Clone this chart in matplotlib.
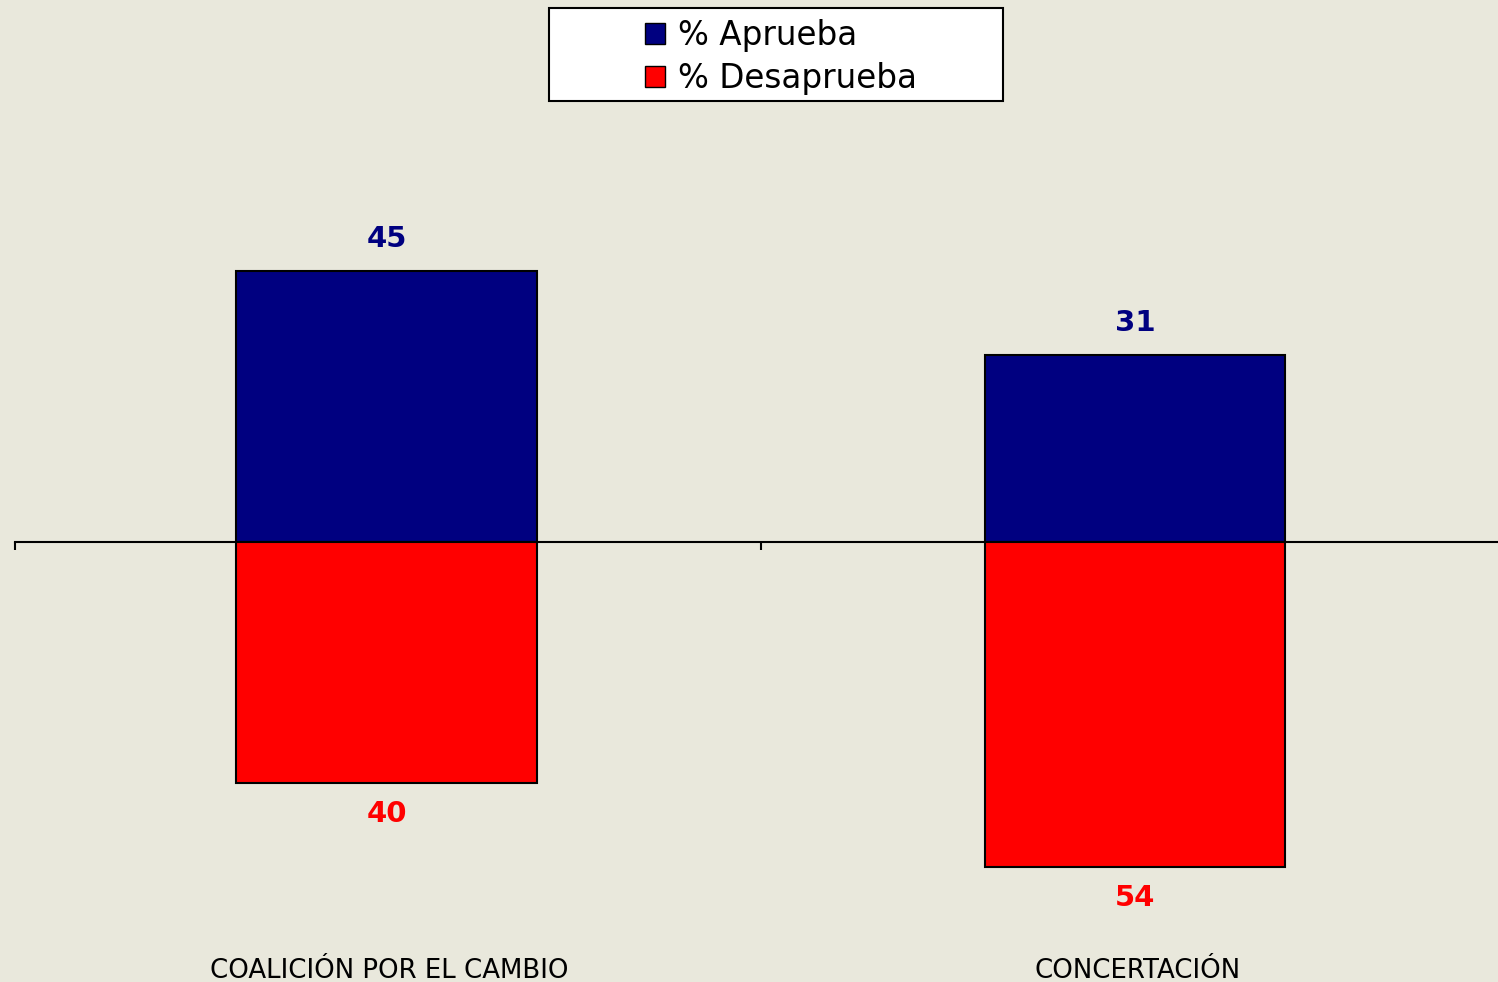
import matplotlib
matplotlib.use("Agg")
import matplotlib.pyplot as plt
from matplotlib.patches import Patch, Rectangle

categories = ["COALICIÓN POR EL CAMBIO", "CONCERTACIÓN"]
aprueba = [45, 31]
desaprueba = [40, 54]
series_names = ["% Aprueba", "% Desaprueba"]

BG = "#E9E8DC"
BLUE = "#000080"
RED = "#FF0000"

plt.rcParams['font.family'] = ['DejaVu Sans']

fig = plt.figure(figsize=(14.98, 9.82), dpi=100)
fig.patch.set_facecolor(BG)
ax = fig.add_axes([0, 0, 1, 1])
ax.set_facecolor(BG)

x = list(range(len(categories)))
w = 0.402
ax.bar(x, aprueba, width=w, color=BLUE, edgecolor="black", linewidth=1.5, zorder=3)
ax.bar(x, [-v for v in desaprueba], width=w, color=RED, edgecolor="black", linewidth=1.5, zorder=3)

for s in ["top", "left", "right"]:
    ax.spines[s].set_visible(False)
ax.spines["bottom"].set_position(("data", 0))
ax.spines["bottom"].set_linewidth(1.5)
ax.spines["bottom"].set_bounds(-0.497, 1.5)
ax.spines["bottom"].set_zorder(2)
ax.set_yticks([])
ax.set_xticks([-0.497, 0.5, 1.5])
ax.set_xticklabels([])
ax.tick_params(axis="x", direction="out", length=6, width=1.5, color="black")

ax.set_xlim(-0.5164, 1.485)
ax.set_ylim(-73.09, 90.03)

for xi, v in zip(x, aprueba):
    ax.annotate(f"{v}", xy=(xi, v), xytext=(0, 18), textcoords="offset pixels",
                ha="center", va="bottom", fontsize=21, fontweight="bold", color=BLUE)
for xi, v in zip(x, desaprueba):
    ax.annotate(f"{v}", xy=(xi, -v), xytext=(0, -17), textcoords="offset pixels",
                ha="center", va="top", fontsize=21, fontweight="bold", color=RED)

for xi, c in zip(x, categories):
    ax.text(xi + 0.004, -72.4, c, ha="center", va="baseline", fontsize=18.7, color="black")

# legend frame
fig.patches.append(Rectangle((549/1498, 1 - 101/982), 454/1498, 93/982,
                             transform=fig.transFigure, facecolor="white",
                             edgecolor="black", linewidth=1.5, zorder=1))
handles = [Patch(facecolor=BLUE, edgecolor="black", linewidth=1),
           Patch(facecolor=RED, edgecolor="black", linewidth=1)]
leg = fig.legend(handles, series_names, loc="center", bbox_to_anchor=(781/1498, 1 - 57/982),
                 frameon=False, fontsize=23.5, handlelength=0.62, handleheight=0.62,
                 handletextpad=0.4, labelspacing=0.3, borderpad=0)

fig.savefig("out.png", dpi=100, facecolor=BG)
